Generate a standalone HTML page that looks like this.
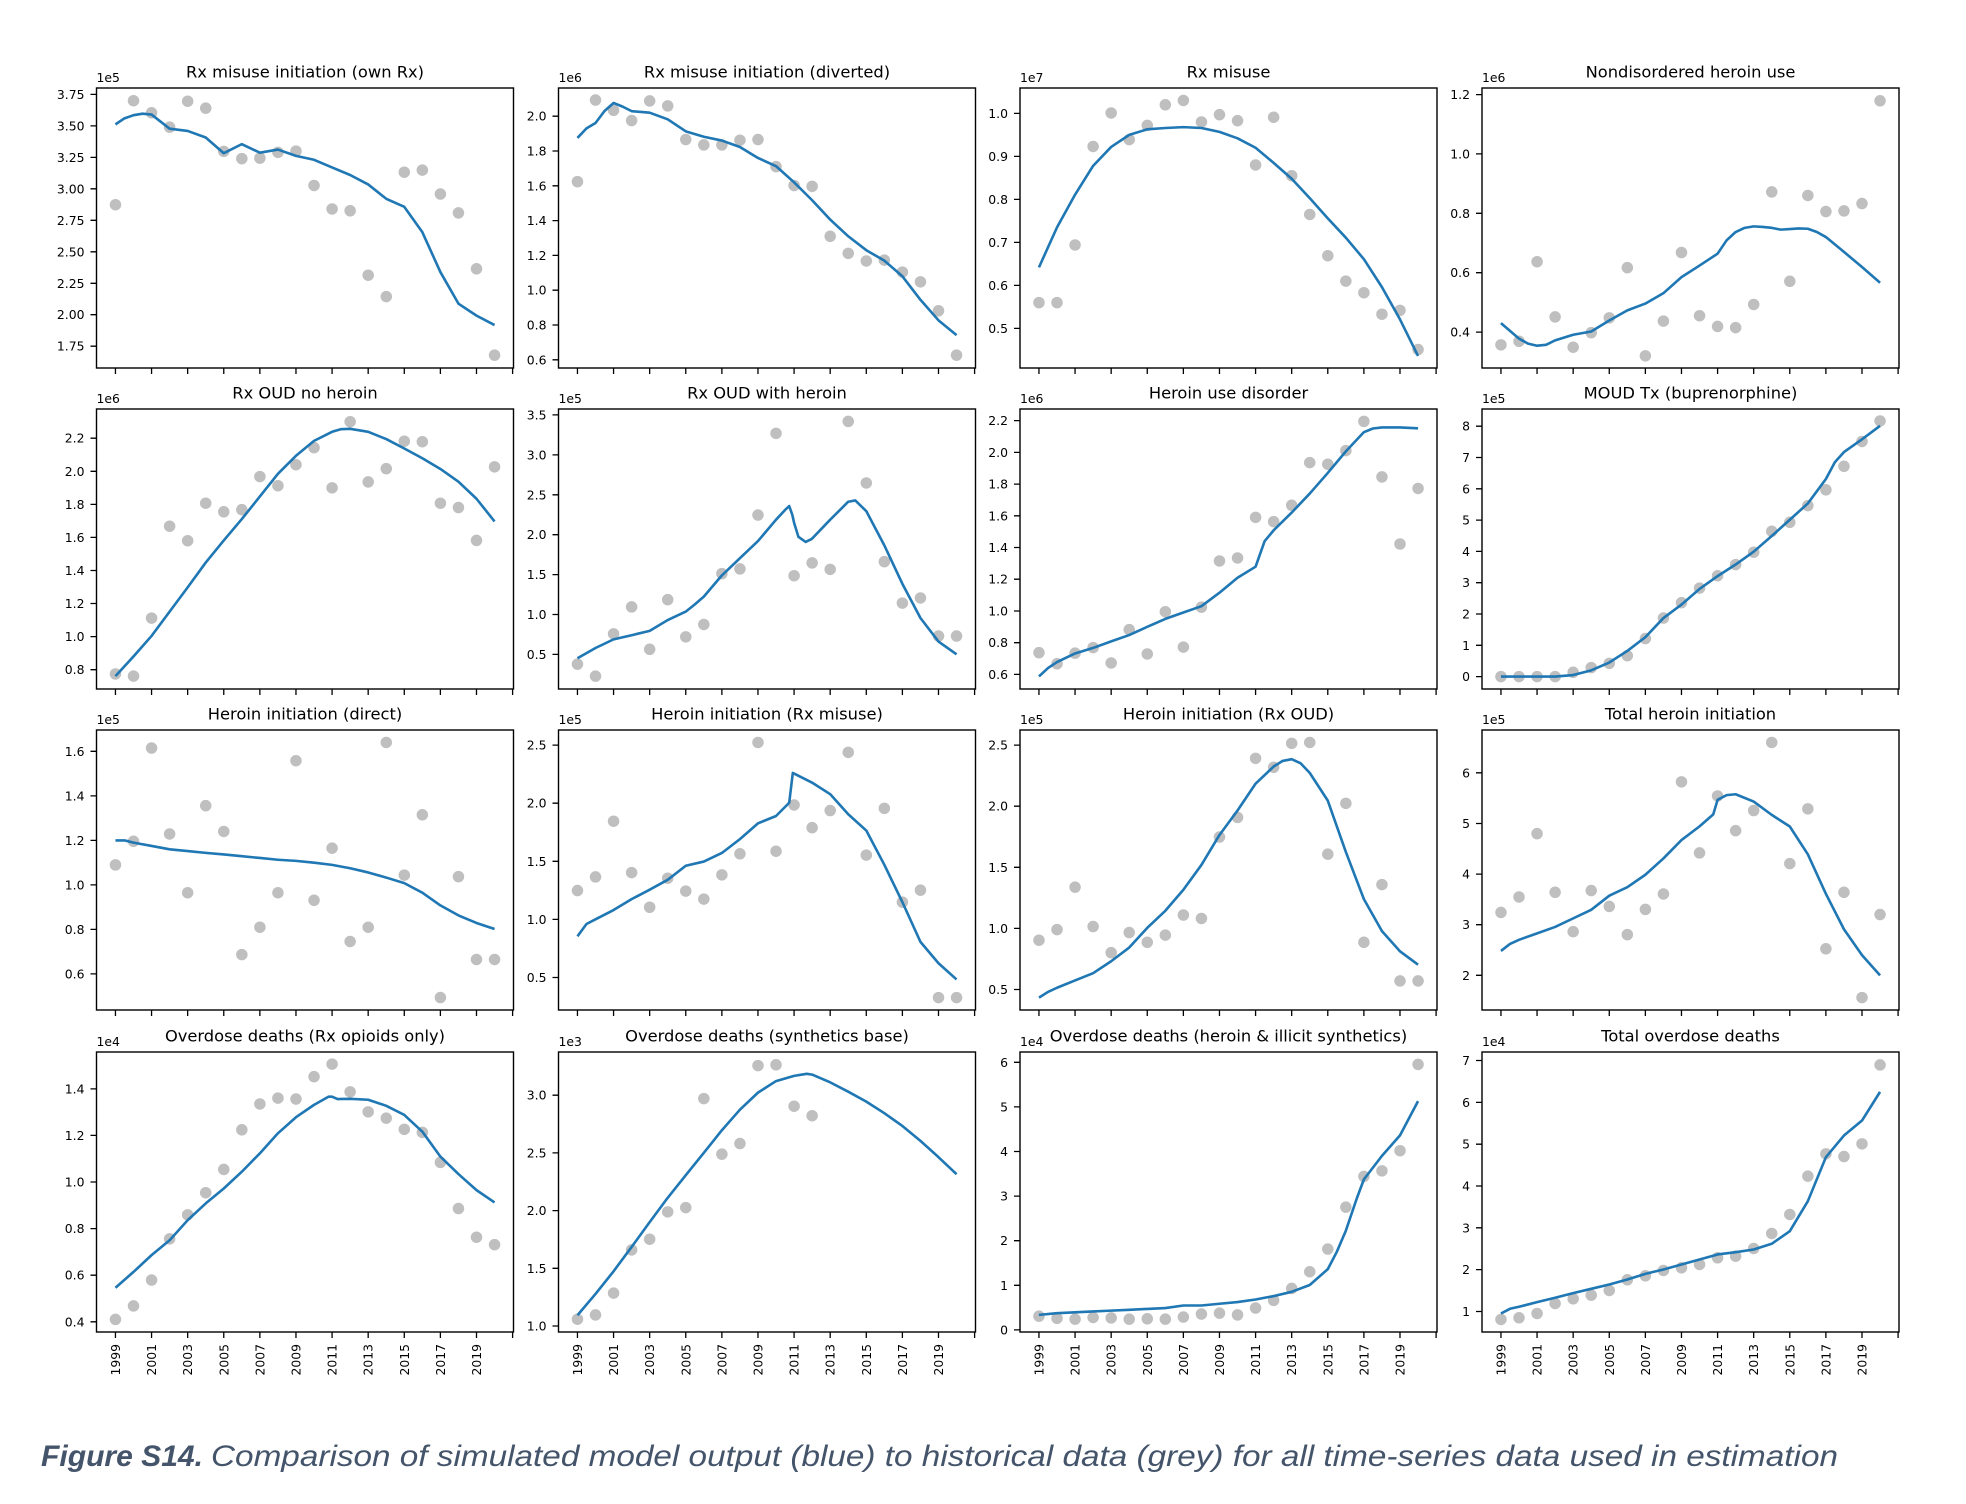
<!DOCTYPE html>
<html><head><meta charset="utf-8"><style>
html,body{margin:0;padding:0;background:#fff}
svg{display:block}
.t{font-family:"DejaVu Sans",sans-serif;font-size:16.3px;text-anchor:middle;fill:#000}
.e{font-family:"DejaVu Sans",sans-serif;font-size:12.4px;fill:#000}
.yl text{font-family:"DejaVu Sans",sans-serif;font-size:12.4px;text-anchor:end;fill:#000}
.xl text{font-family:"DejaVu Sans",sans-serif;font-size:12.4px;text-anchor:end;fill:#000}
.tk{stroke:#000;stroke-width:1.3;fill:none}
.fr{fill:none;stroke:#000;stroke-width:1.4}
.pt{stroke:#bfbfbf;stroke-width:11.5;stroke-linecap:round;fill:none}
.ln{stroke:#1f77b4;stroke-width:2.6;fill:none;stroke-linejoin:round}
.cap{font-family:"Liberation Sans",sans-serif;font-style:italic;font-size:30px;fill:#44546a}
</style></head><body>
<svg width="1966" height="1504" viewBox="0 0 1966 1504" xmlns="http://www.w3.org/2000/svg">
<rect width="1966" height="1504" fill="#fff"/>
<defs>
<path id="xt" class="tk" d="M18.95 280v6M55.06 280v6M91.16 280v6M127.26 280v6M163.37 280v6M199.47 280v6M235.58 280v6M271.68 280v6M307.78 280v6M343.89 280v6M379.99 280v6M416.1 280v6"/>
</defs>

<!-- P1 -->
<g transform="translate(96.5,88)">
<text class="t" x="208.5" y="-10.5">Rx misuse initiation (own Rx)</text>
<text class="e" x="0" y="-6">1e5</text>
<path class="tk" d="M0 258.2h-6M0 226.7h-6M0 195.3h-6M0 163.8h-6M0 132.3h-6M0 100.8h-6M0 69.4h-6M0 37.9h-6M0 6.4h-6"/>
<g class="yl"><text x="-12" y="262.7">1.75</text><text x="-12" y="231.2">2.00</text><text x="-12" y="199.8">2.25</text><text x="-12" y="168.3">2.50</text><text x="-12" y="136.8">2.75</text><text x="-12" y="105.3">3.00</text><text x="-12" y="73.9">3.25</text><text x="-12" y="42.4">3.50</text><text x="-12" y="10.9">3.75</text></g>
<use href="#xt"/>
<g transform="translate(0,280) scale(18.052,-125.9) translate(-1997.95,-1.577)">
<path class="pt" vector-effect="non-scaling-stroke" d="M1999 2.874h.001M2000 3.7h.001M2001 3.604h.001M2002 3.49h.001M2003 3.696h.001M2004 3.641h.001M2005 3.298h.001M2006 3.24h.001M2007 3.244h.001M2008 3.29h.001M2009 3.3h.001M2010 3.027h.001M2011 2.84h.001M2012 2.826h.001M2013 2.314h.001M2014 2.144h.001M2015 3.132h.001M2016 3.149h.001M2017 2.959h.001M2018 2.809h.001M2019 2.365h.001M2020 1.679h.001"/>
<polyline class="ln" vector-effect="non-scaling-stroke" points="1999,3.512 1999.5,3.56 2000,3.585 2000.5,3.597 2001,3.59 2002,3.478 2003,3.46 2004,3.408 2005,3.283 2006,3.355 2007,3.287 2008,3.312 2009,3.262 2010,3.231 2011,3.17 2012,3.11 2013,3.035 2014,2.921 2015,2.857 2016,2.656 2017,2.339 2018,2.088 2019,1.993 2020,1.918"/>
</g>
<rect class="fr" width="417" height="280"/>
</g>

<!-- P2 -->
<g transform="translate(558.5,88)">
<text class="t" x="208.5" y="-10.5">Rx misuse initiation (diverted)</text>
<text class="e" x="0" y="-6">1e6</text>
<path class="tk" d="M0 271.8h-6M0 237h-6M0 202.2h-6M0 167.4h-6M0 132.6h-6M0 97.8h-6M0 63h-6M0 28.2h-6"/>
<g class="yl"><text x="-12" y="276.3">0.6</text><text x="-12" y="241.5">0.8</text><text x="-12" y="206.7">1.0</text><text x="-12" y="171.9">1.2</text><text x="-12" y="137.1">1.4</text><text x="-12" y="102.3">1.6</text><text x="-12" y="67.5">1.8</text><text x="-12" y="32.7">2.0</text></g>
<use href="#xt"/>
<g transform="translate(0,280) scale(18.052,-174.02) translate(-1997.95,-0.553)">
<path class="pt" vector-effect="non-scaling-stroke" d="M1999 1.624h.001M2000 2.093h.001M2001 2.034h.001M2002 1.975h.001M2003 2.088h.001M2004 2.059h.001M2005 1.866h.001M2006 1.835h.001M2007 1.835h.001M2008 1.862h.001M2009 1.866h.001M2010 1.71h.001M2011 1.602h.001M2012 1.597h.001M2013 1.31h.001M2014 1.212h.001M2015 1.168h.001M2016 1.173h.001M2017 1.104h.001M2018 1.048h.001M2019 0.882h.001M2020 0.627h.001"/>
<polyline class="ln" vector-effect="non-scaling-stroke" points="1999,1.875 1999.5,1.93 2000,1.961 2000.5,2.03 2001,2.076 2001.5,2.055 2002,2.029 2003,2.02 2004,1.982 2005,1.913 2006,1.882 2007,1.86 2008,1.823 2009,1.76 2010,1.713 2011,1.62 2012,1.517 2013,1.406 2014,1.31 2015,1.23 2016,1.17 2017,1.08 2018,0.945 2019,0.827 2020,0.742"/>
</g>
<rect class="fr" width="417" height="280"/>
</g>

<!-- P3 -->
<g transform="translate(1020,88)">
<text class="t" x="208.5" y="-10.5">Rx misuse</text>
<text class="e" x="0" y="-6">1e7</text>
<path class="tk" d="M0 240.4h-6M0 197.4h-6M0 154.4h-6M0 111.4h-6M0 68.4h-6M0 25.4h-6"/>
<g class="yl"><text x="-12" y="244.9">0.5</text><text x="-12" y="201.9">0.6</text><text x="-12" y="158.9">0.7</text><text x="-12" y="115.9">0.8</text><text x="-12" y="72.9">0.9</text><text x="-12" y="29.9">1.0</text></g>
<use href="#xt"/>
<g transform="translate(0,280) scale(18.052,-430.11) translate(-1997.95,-0.408)">
<path class="pt" vector-effect="non-scaling-stroke" d="M1999 0.56h.001M2000 0.56h.001M2001 0.694h.001M2002 0.923h.001M2003 1.001h.001M2004 0.939h.001M2005 0.972h.001M2006 1.02h.001M2007 1.03h.001M2008 0.98h.001M2009 0.997h.001M2010 0.983h.001M2011 0.88h.001M2012 0.991h.001M2013 0.855h.001M2014 0.765h.001M2015 0.669h.001M2016 0.61h.001M2017 0.583h.001M2018 0.533h.001M2019 0.542h.001M2020 0.451h.001"/>
<polyline class="ln" vector-effect="non-scaling-stroke" points="1999,0.642 2000,0.735 2001,0.811 2002,0.878 2003,0.922 2004,0.95 2005,0.963 2006,0.966 2007,0.968 2008,0.966 2009,0.957 2010,0.942 2011,0.92 2012,0.885 2013,0.848 2014,0.803 2015,0.756 2016,0.711 2017,0.661 2018,0.596 2019,0.521 2020,0.436"/>
</g>
<rect class="fr" width="417" height="280"/>
</g>

<!-- P4 -->
<g transform="translate(1482,88)">
<text class="t" x="208.5" y="-10.5">Nondisordered heroin use</text>
<text class="e" x="0" y="-6">1e6</text>
<path class="tk" d="M0 244.1h-6M0 184.7h-6M0 125.3h-6M0 65.9h-6M0 6.6h-6"/>
<g class="yl"><text x="-12" y="248.6">0.4</text><text x="-12" y="189.2">0.6</text><text x="-12" y="129.8">0.8</text><text x="-12" y="70.4">1.0</text><text x="-12" y="11.1">1.2</text></g>
<use href="#xt"/>
<g transform="translate(0,280) scale(18.052,-296.92) translate(-1997.95,-0.279)">
<path class="pt" vector-effect="non-scaling-stroke" d="M1999 0.357h.001M2000 0.369h.001M2001 0.637h.001M2002 0.451h.001M2003 0.349h.001M2004 0.398h.001M2005 0.448h.001M2006 0.617h.001M2007 0.32h.001M2008 0.437h.001M2009 0.668h.001M2010 0.455h.001M2011 0.419h.001M2012 0.415h.001M2013 0.493h.001M2014 0.872h.001M2015 0.571h.001M2016 0.86h.001M2017 0.806h.001M2018 0.808h.001M2019 0.833h.001M2020 1.179h.001"/>
<polyline class="ln" vector-effect="non-scaling-stroke" points="1999,0.43 2000,0.378 2000.5,0.361 2001,0.354 2001.5,0.357 2002,0.372 2003,0.391 2004,0.402 2005,0.439 2006,0.473 2007,0.496 2008,0.531 2009,0.585 2010,0.624 2011,0.664 2011.5,0.709 2012,0.737 2012.5,0.751 2013,0.756 2013.5,0.754 2014,0.751 2014.5,0.745 2015,0.747 2015.5,0.749 2016,0.748 2016.5,0.737 2017,0.72 2018,0.67 2019,0.619 2020,0.566"/>
</g>
<rect class="fr" width="417" height="280"/>
</g>

<!-- P5 -->
<g transform="translate(96.5,409)">
<text class="t" x="208.5" y="-10.5">Rx OUD no heroin</text>
<text class="e" x="0" y="-6">1e6</text>
<path class="tk" d="M0 260.7h-6M0 227.6h-6M0 194.5h-6M0 161.5h-6M0 128.4h-6M0 95.4h-6M0 62.3h-6M0 29.2h-6"/>
<g class="yl"><text x="-12" y="265.2">0.8</text><text x="-12" y="232.1">1.0</text><text x="-12" y="199">1.2</text><text x="-12" y="166">1.4</text><text x="-12" y="132.9">1.6</text><text x="-12" y="99.9">1.8</text><text x="-12" y="66.8">2.0</text><text x="-12" y="33.7">2.2</text></g>
<use href="#xt"/>
<g transform="translate(0,280) scale(18.052,-165.29) translate(-1997.95,-0.683)">
<path class="pt" vector-effect="non-scaling-stroke" d="M1999 0.774h.001M2000 0.761h.001M2001 1.112h.001M2002 1.668h.001M2003 1.58h.001M2004 1.807h.001M2005 1.755h.001M2006 1.768h.001M2007 1.968h.001M2008 1.913h.001M2009 2.04h.001M2010 2.143h.001M2011 1.9h.001M2012 2.3h.001M2013 1.936h.001M2014 2.016h.001M2015 2.182h.001M2016 2.179h.001M2017 1.807h.001M2018 1.781h.001M2019 1.582h.001M2020 2.027h.001"/>
<polyline class="ln" vector-effect="non-scaling-stroke" points="1999,0.761 2000,0.88 2001,1.004 2002,1.151 2003,1.298 2004,1.448 2005,1.582 2006,1.711 2007,1.848 2008,1.985 2009,2.094 2010,2.184 2011,2.239 2011.5,2.255 2012,2.257 2013,2.239 2014,2.195 2015,2.138 2016,2.079 2017,2.014 2018,1.937 2019,1.834 2020,1.697"/>
</g>
<rect class="fr" width="417" height="280"/>
</g>

<!-- P6 -->
<g transform="translate(558.5,409)">
<text class="t" x="208.5" y="-10.5">Rx OUD with heroin</text>
<text class="e" x="0" y="-6">1e5</text>
<path class="tk" d="M0 245.4h-6M0 205.5h-6M0 165.6h-6M0 125.7h-6M0 85.8h-6M0 45.9h-6M0 5.9h-6"/>
<g class="yl"><text x="-12" y="249.9">0.5</text><text x="-12" y="210">1.0</text><text x="-12" y="170.1">1.5</text><text x="-12" y="130.2">2.0</text><text x="-12" y="90.3">2.5</text><text x="-12" y="50.4">3.0</text><text x="-12" y="10.4">3.5</text></g>
<use href="#xt"/>
<g transform="translate(0,280) scale(18.052,-79.79) translate(-1997.95,-0.066)">
<path class="pt" vector-effect="non-scaling-stroke" d="M1999 0.377h.001M2000 0.227h.001M2001 0.757h.001M2002 1.095h.001M2003 0.564h.001M2004 1.186h.001M2005 0.72h.001M2006 0.875h.001M2007 1.512h.001M2008 1.571h.001M2009 2.246h.001M2010 3.27h.001M2011 1.486h.001M2012 1.646h.001M2013 1.566h.001M2014 3.42h.001M2015 2.648h.001M2016 1.662h.001M2017 1.143h.001M2018 1.207h.001M2019 0.73h.001M2020 0.73h.001"/>
<polyline class="ln" vector-effect="non-scaling-stroke" points="1999,0.452 2000,0.58 2001,0.688 2002,0.74 2003,0.795 2004,0.93 2005,1.036 2005.47,1.12 2006,1.224 2007,1.49 2008,1.706 2009,1.92 2010,2.188 2010.5,2.31 2010.73,2.359 2010.9,2.25 2011,2.15 2011.24,1.973 2011.64,1.909 2011.98,1.947 2013,2.188 2014,2.413 2014.39,2.429 2015,2.295 2016,1.866 2017,1.384 2018,0.956 2019,0.661 2020,0.5"/>
</g>
<rect class="fr" width="417" height="280"/>
</g>

<!-- P7 -->
<g transform="translate(1020,409)">
<text class="t" x="208.5" y="-10.5">Heroin use disorder</text>
<text class="e" x="0" y="-6">1e6</text>
<path class="tk" d="M0 265.4h-6M0 233.7h-6M0 202h-6M0 170.2h-6M0 138.5h-6M0 106.8h-6M0 75.1h-6M0 43.4h-6M0 11.6h-6"/>
<g class="yl"><text x="-12" y="269.9">0.6</text><text x="-12" y="238.2">0.8</text><text x="-12" y="206.5">1.0</text><text x="-12" y="174.7">1.2</text><text x="-12" y="143">1.4</text><text x="-12" y="111.3">1.6</text><text x="-12" y="79.6">1.8</text><text x="-12" y="47.9">2.0</text><text x="-12" y="16.1">2.2</text></g>
<use href="#xt"/>
<g transform="translate(0,280) scale(18.052,-158.64) translate(-1997.95,-0.508)">
<path class="pt" vector-effect="non-scaling-stroke" d="M1999 0.737h.001M2000 0.667h.001M2001 0.734h.001M2002 0.769h.001M2003 0.672h.001M2004 0.882h.001M2005 0.729h.001M2006 0.995h.001M2007 0.772h.001M2008 1.024h.001M2009 1.315h.001M2010 1.334h.001M2011 1.59h.001M2012 1.563h.001M2013 1.666h.001M2014 1.935h.001M2015 1.925h.001M2016 2.011h.001M2017 2.195h.001M2018 1.845h.001M2019 1.422h.001M2020 1.772h.001"/>
<polyline class="ln" vector-effect="non-scaling-stroke" points="1999,0.587 1999.5,0.64 2000,0.678 2001,0.732 2002,0.767 2003,0.808 2004,0.848 2005,0.9 2006,0.95 2007,0.99 2008,1.03 2009,1.115 2010,1.209 2011,1.279 2011.5,1.44 2012,1.508 2013,1.62 2014,1.74 2015,1.87 2016,2.006 2017,2.127 2017.5,2.15 2018,2.157 2019,2.157 2020,2.151"/>
</g>
<rect class="fr" width="417" height="280"/>
</g>

<!-- P8 -->
<g transform="translate(1482,409)">
<text class="t" x="208.5" y="-10.5">MOUD Tx (buprenorphine)</text>
<text class="e" x="0" y="-6">1e5</text>
<path class="tk" d="M0 267.6h-6M0 236.3h-6M0 205h-6M0 173.7h-6M0 142.4h-6M0 111.1h-6M0 79.8h-6M0 48.5h-6M0 17.2h-6"/>
<g class="yl"><text x="-12" y="272.1">0</text><text x="-12" y="240.8">1</text><text x="-12" y="209.5">2</text><text x="-12" y="178.2">3</text><text x="-12" y="146.9">4</text><text x="-12" y="115.6">5</text><text x="-12" y="84.3">6</text><text x="-12" y="53">7</text><text x="-12" y="21.7">8</text></g>
<use href="#xt"/>
<g transform="translate(0,280) scale(18.052,-31.31) translate(-1997.95,0.396)">
<path class="pt" vector-effect="non-scaling-stroke" d="M1999 0h.001M2000 0h.001M2001 0h.001M2002 0h.001M2003 0.137h.001M2004 0.287h.001M2005 0.423h.001M2006 0.669h.001M2007 1.215h.001M2008 1.87h.001M2009 2.362h.001M2010 2.826h.001M2011 3.222h.001M2012 3.577h.001M2013 3.973h.001M2014 4.642h.001M2015 4.929h.001M2016 5.461h.001M2017 5.966h.001M2018 6.717h.001M2019 7.509h.001M2020 8.164h.001"/>
<polyline class="ln" vector-effect="non-scaling-stroke" points="1999,0 2000,0 2001,0 2002,0 2003,0.05 2004,0.2 2005,0.45 2006,0.82 2007,1.26 2008,1.87 2009,2.3 2010,2.8 2011,3.21 2012,3.58 2013,3.99 2014,4.49 2015,5.01 2016,5.53 2017,6.31 2017.5,6.85 2018,7.17 2019,7.58 2020,8.01"/>
</g>
<rect class="fr" width="417" height="280"/>
</g>

<!-- P9 -->
<g transform="translate(96.5,730)">
<text class="t" x="208.5" y="-10.5">Heroin initiation (direct)</text>
<text class="e" x="0" y="-6">1e5</text>
<path class="tk" d="M0 243.9h-6M0 199.4h-6M0 154.9h-6M0 110.4h-6M0 65.9h-6M0 21.3h-6"/>
<g class="yl"><text x="-12" y="248.4">0.6</text><text x="-12" y="203.9">0.8</text><text x="-12" y="159.4">1.0</text><text x="-12" y="114.9">1.2</text><text x="-12" y="70.4">1.4</text><text x="-12" y="25.8">1.6</text></g>
<use href="#xt"/>
<g transform="translate(0,280) scale(18.052,-222.58) translate(-1997.95,-0.438)">
<path class="pt" vector-effect="non-scaling-stroke" d="M1999 1.09h.001M2000 1.196h.001M2001 1.615h.001M2002 1.229h.001M2003 0.965h.001M2004 1.356h.001M2005 1.24h.001M2006 0.687h.001M2007 0.81h.001M2008 0.965h.001M2009 1.558h.001M2010 0.931h.001M2011 1.165h.001M2012 0.746h.001M2013 0.81h.001M2014 1.64h.001M2015 1.044h.001M2016 1.315h.001M2017 0.494h.001M2018 1.037h.001M2019 0.665h.001M2020 0.665h.001"/>
<polyline class="ln" vector-effect="non-scaling-stroke" points="1999,1.2 1999.5,1.2 2000,1.19 2001,1.175 2002,1.16 2003,1.152 2004,1.144 2005,1.137 2006,1.129 2007,1.121 2008,1.113 2009,1.108 2010,1.1 2011,1.09 2012,1.075 2013,1.056 2014,1.033 2015,1.008 2016,0.965 2017,0.908 2018,0.863 2019,0.829 2020,0.802"/>
</g>
<rect class="fr" width="417" height="280"/>
</g>

<!-- P10 -->
<g transform="translate(558.5,730)">
<text class="t" x="208.5" y="-10.5">Heroin initiation (Rx misuse)</text>
<text class="e" x="0" y="-6">1e5</text>
<path class="tk" d="M0 247.5h-6M0 189.4h-6M0 131.3h-6M0 73.2h-6M0 15.1h-6"/>
<g class="yl"><text x="-12" y="252">0.5</text><text x="-12" y="193.9">1.0</text><text x="-12" y="135.8">1.5</text><text x="-12" y="77.7">2.0</text><text x="-12" y="19.6">2.5</text></g>
<use href="#xt"/>
<g transform="translate(0,280) scale(18.052,-116.23) translate(-1997.95,-0.22)">
<path class="pt" vector-effect="non-scaling-stroke" d="M1999 1.248h.001M2000 1.365h.001M2001 1.844h.001M2002 1.402h.001M2003 1.104h.001M2004 1.354h.001M2005 1.243h.001M2006 1.174h.001M2007 1.383h.001M2008 1.564h.001M2009 2.522h.001M2010 1.586h.001M2011 1.984h.001M2012 1.789h.001M2013 1.936h.001M2014 2.437h.001M2015 1.553h.001M2016 1.955h.001M2017 1.148h.001M2018 1.251h.001M2019 0.327h.001M2020 0.327h.001"/>
<polyline class="ln" vector-effect="non-scaling-stroke" points="1999,0.854 1999.5,0.96 2000,1.0 2001,1.08 2002,1.174 2003,1.255 2004,1.34 2005,1.461 2006,1.497 2007,1.571 2008,1.69 2009,1.826 2010,1.889 2010.73,2.003 2010.93,2.26 2011,2.254 2012,2.176 2013,2.077 2014,1.904 2015,1.764 2016,1.469 2017,1.148 2018,0.806 2019,0.622 2020,0.483"/>
</g>
<rect class="fr" width="417" height="280"/>
</g>

<!-- P11 -->
<g transform="translate(1020,730)">
<text class="t" x="208.5" y="-10.5">Heroin initiation (Rx OUD)</text>
<text class="e" x="0" y="-6">1e5</text>
<path class="tk" d="M0 259.5h-6M0 198.4h-6M0 137.3h-6M0 76.2h-6M0 15.1h-6"/>
<g class="yl"><text x="-12" y="264">0.5</text><text x="-12" y="202.9">1.0</text><text x="-12" y="141.8">1.5</text><text x="-12" y="80.7">2.0</text><text x="-12" y="19.6">2.5</text></g>
<use href="#xt"/>
<g transform="translate(0,280) scale(18.052,-122.22) translate(-1997.95,-0.332)">
<path class="pt" vector-effect="non-scaling-stroke" d="M1999 0.903h.001M2000 0.99h.001M2001 1.337h.001M2002 1.015h.001M2003 0.801h.001M2004 0.966h.001M2005 0.886h.001M2006 0.945h.001M2007 1.109h.001M2008 1.081h.001M2009 1.747h.001M2010 1.908h.001M2011 2.391h.001M2012 2.318h.001M2013 2.514h.001M2014 2.521h.001M2015 1.607h.001M2016 2.023h.001M2017 0.886h.001M2018 1.358h.001M2019 0.57h.001M2020 0.57h.001"/>
<polyline class="ln" vector-effect="non-scaling-stroke" points="1999,0.433 1999.5,0.48 2000,0.514 2001,0.574 2002,0.633 2003,0.731 2004,0.843 2005,1.004 2006,1.144 2007,1.316 2008,1.519 2009,1.764 2010,1.964 2011,2.184 2012,2.324 2012.5,2.37 2013,2.384 2013.5,2.35 2014,2.272 2015,2.045 2016,1.625 2017,1.239 2018,0.977 2019,0.812 2020,0.703"/>
</g>
<rect class="fr" width="417" height="280"/>
</g>

<!-- P12 -->
<g transform="translate(1482,730)">
<text class="t" x="208.5" y="-10.5">Total heroin initiation</text>
<text class="e" x="0" y="-6">1e5</text>
<path class="tk" d="M0 245.3h-6M0 194.7h-6M0 144.1h-6M0 93.5h-6M0 42.8h-6"/>
<g class="yl"><text x="-12" y="249.8">2</text><text x="-12" y="199.2">3</text><text x="-12" y="148.6">4</text><text x="-12" y="98">5</text><text x="-12" y="47.3">6</text></g>
<use href="#xt"/>
<g transform="translate(0,280) scale(18.052,-50.62) translate(-1997.95,-1.315)">
<path class="pt" vector-effect="non-scaling-stroke" d="M1999 3.243h.001M2000 3.548h.001M2001 4.799h.001M2002 3.641h.001M2003 2.863h.001M2004 3.675h.001M2005 3.362h.001M2006 2.804h.001M2007 3.302h.001M2008 3.607h.001M2009 5.822h.001M2010 4.418h.001M2011 5.543h.001M2012 4.858h.001M2013 5.256h.001M2014 6.6h.001M2015 4.207h.001M2016 5.289h.001M2017 2.524h.001M2018 3.641h.001M2019 1.56h.001M2020 3.201h.001"/>
<polyline class="ln" vector-effect="non-scaling-stroke" points="1999,2.482 1999.5,2.62 2000,2.702 2001,2.829 2002,2.956 2003,3.125 2004,3.294 2005,3.573 2006,3.742 2007,3.987 2008,4.309 2009,4.672 2010,4.943 2010.76,5.18 2011,5.467 2011.5,5.56 2012,5.577 2013,5.433 2014,5.17 2015,4.94 2016,4.39 2017,3.61 2018,2.91 2019,2.4 2020,2.0"/>
</g>
<rect class="fr" width="417" height="280"/>
</g>

<!-- P13 -->
<g transform="translate(96.5,1052)">
<text class="t" x="208.5" y="-10.5">Overdose deaths (Rx opioids only)</text>
<text class="e" x="0" y="-6">1e4</text>
<path class="tk" d="M0 269.8h-6M0 223.2h-6M0 176.6h-6M0 130h-6M0 83.4h-6M0 36.9h-6"/>
<g class="yl"><text x="-12" y="274.3">0.4</text><text x="-12" y="227.7">0.6</text><text x="-12" y="181.1">0.8</text><text x="-12" y="134.5">1.0</text><text x="-12" y="87.9">1.2</text><text x="-12" y="41.4">1.4</text></g>
<use href="#xt"/>
<g class="xl"><text transform="translate(23.45,292) rotate(-90)">1999</text><text transform="translate(59.56,292) rotate(-90)">2001</text><text transform="translate(95.66,292) rotate(-90)">2003</text><text transform="translate(131.76,292) rotate(-90)">2005</text><text transform="translate(167.87,292) rotate(-90)">2007</text><text transform="translate(203.97,292) rotate(-90)">2009</text><text transform="translate(240.08,292) rotate(-90)">2011</text><text transform="translate(276.18,292) rotate(-90)">2013</text><text transform="translate(312.28,292) rotate(-90)">2015</text><text transform="translate(348.39,292) rotate(-90)">2017</text><text transform="translate(384.49,292) rotate(-90)">2019</text></g>
<g transform="translate(0,280) scale(18.052,-232.95) translate(-1997.95,-0.356)">
<path class="pt" vector-effect="non-scaling-stroke" d="M1999 0.41h.001M2000 0.468h.001M2001 0.579h.001M2002 0.756h.001M2003 0.859h.001M2004 0.954h.001M2005 1.054h.001M2006 1.224h.001M2007 1.335h.001M2008 1.36h.001M2009 1.356h.001M2010 1.452h.001M2011 1.506h.001M2012 1.387h.001M2013 1.301h.001M2014 1.274h.001M2015 1.226h.001M2016 1.213h.001M2017 1.084h.001M2018 0.886h.001M2019 0.763h.001M2020 0.731h.001"/>
<polyline class="ln" vector-effect="non-scaling-stroke" points="1999,0.546 2000,0.614 2001,0.686 2002,0.75 2003,0.836 2004,0.908 2005,0.972 2006,1.044 2007,1.123 2008,1.209 2009,1.278 2010,1.331 2010.8,1.366 2011,1.366 2011.3,1.356 2012,1.357 2013,1.353 2014,1.327 2015,1.288 2016,1.216 2017,1.109 2018,1.034 2019,0.965 2020,0.912"/>
</g>
<rect class="fr" width="417" height="280"/>
</g>

<!-- P14 -->
<g transform="translate(558.5,1052)">
<text class="t" x="208.5" y="-10.5">Overdose deaths (synthetics base)</text>
<text class="e" x="0" y="-6">1e3</text>
<path class="tk" d="M0 274h-6M0 216.3h-6M0 158.6h-6M0 100.9h-6M0 43.2h-6"/>
<g class="yl"><text x="-12" y="278.5">1.0</text><text x="-12" y="220.8">1.5</text><text x="-12" y="163.1">2.0</text><text x="-12" y="105.4">2.5</text><text x="-12" y="47.7">3.0</text></g>
<use href="#xt"/>
<g class="xl"><text transform="translate(23.45,292) rotate(-90)">1999</text><text transform="translate(59.56,292) rotate(-90)">2001</text><text transform="translate(95.66,292) rotate(-90)">2003</text><text transform="translate(131.76,292) rotate(-90)">2005</text><text transform="translate(167.87,292) rotate(-90)">2007</text><text transform="translate(203.97,292) rotate(-90)">2009</text><text transform="translate(240.08,292) rotate(-90)">2011</text><text transform="translate(276.18,292) rotate(-90)">2013</text><text transform="translate(312.28,292) rotate(-90)">2015</text><text transform="translate(348.39,292) rotate(-90)">2017</text><text transform="translate(384.49,292) rotate(-90)">2019</text></g>
<g transform="translate(0,280) scale(18.052,-115.42) translate(-1997.95,-0.948)">
<path class="pt" vector-effect="non-scaling-stroke" d="M1999 1.059h.001M2000 1.096h.001M2001 1.285h.001M2002 1.659h.001M2003 1.752h.001M2004 1.989h.001M2005 2.026h.001M2006 2.97h.001M2007 2.489h.001M2008 2.581h.001M2009 3.256h.001M2010 3.263h.001M2011 2.904h.001M2012 2.822h.001"/>
<polyline class="ln" vector-effect="non-scaling-stroke" points="1999,1.093 2000,1.278 2001,1.474 2002,1.685 2003,1.9 2004,2.111 2005,2.307 2006,2.5 2007,2.696 2008,2.874 2009,3.022 2010,3.122 2011,3.167 2011.7,3.185 2012,3.178 2013,3.111 2014,3.03 2015,2.944 2016,2.844 2017,2.733 2018,2.604 2019,2.463 2020,2.315"/>
</g>
<rect class="fr" width="417" height="280"/>
</g>

<!-- P15 -->
<g transform="translate(1020,1052)">
<text class="t" x="208.5" y="-10.5">Overdose deaths (heroin &amp; illicit synthetics)</text>
<text class="e" x="0" y="-6">1e4</text>
<path class="tk" d="M0 277.9h-6M0 233.3h-6M0 188.7h-6M0 144.1h-6M0 99.5h-6M0 54.9h-6M0 10.3h-6"/>
<g class="yl"><text x="-12" y="282.4">0</text><text x="-12" y="237.8">1</text><text x="-12" y="193.2">2</text><text x="-12" y="148.6">3</text><text x="-12" y="104">4</text><text x="-12" y="59.4">5</text><text x="-12" y="14.8">6</text></g>
<use href="#xt"/>
<g class="xl"><text transform="translate(23.45,292) rotate(-90)">1999</text><text transform="translate(59.56,292) rotate(-90)">2001</text><text transform="translate(95.66,292) rotate(-90)">2003</text><text transform="translate(131.76,292) rotate(-90)">2005</text><text transform="translate(167.87,292) rotate(-90)">2007</text><text transform="translate(203.97,292) rotate(-90)">2009</text><text transform="translate(240.08,292) rotate(-90)">2011</text><text transform="translate(276.18,292) rotate(-90)">2013</text><text transform="translate(312.28,292) rotate(-90)">2015</text><text transform="translate(348.39,292) rotate(-90)">2017</text><text transform="translate(384.49,292) rotate(-90)">2019</text></g>
<g transform="translate(0,280) scale(18.052,-44.6) translate(-1997.95,0.048)">
<path class="pt" vector-effect="non-scaling-stroke" d="M1999 0.307h.001M2000 0.259h.001M2001 0.24h.001M2002 0.278h.001M2003 0.268h.001M2004 0.24h.001M2005 0.249h.001M2006 0.24h.001M2007 0.288h.001M2008 0.355h.001M2009 0.374h.001M2010 0.336h.001M2011 0.489h.001M2012 0.661h.001M2013 0.93h.001M2014 1.304h.001M2015 1.812h.001M2016 2.751h.001M2017 3.441h.001M2018 3.566h.001M2019 4.016h.001M2020 5.952h.001"/>
<polyline class="ln" vector-effect="non-scaling-stroke" points="1999,0.336 2000,0.374 2001,0.393 2002,0.412 2003,0.431 2004,0.45 2005,0.47 2006,0.489 2007,0.546 2008,0.546 2009,0.585 2010,0.623 2011,0.681 2012,0.757 2013,0.853 2014,1.006 2015,1.361 2015.5,1.75 2016,2.223 2016.6,2.94 2017,3.374 2018,3.901 2019,4.361 2020,5.128"/>
</g>
<rect class="fr" width="417" height="280"/>
</g>

<!-- P16 -->
<g transform="translate(1482,1052)">
<text class="t" x="208.5" y="-10.5">Total overdose deaths</text>
<text class="e" x="0" y="-6">1e4</text>
<path class="tk" d="M0 259.5h-6M0 217.6h-6M0 175.8h-6M0 134h-6M0 92.2h-6M0 50.4h-6M0 8.5h-6"/>
<g class="yl"><text x="-12" y="264">1</text><text x="-12" y="222.1">2</text><text x="-12" y="180.3">3</text><text x="-12" y="138.5">4</text><text x="-12" y="96.7">5</text><text x="-12" y="54.9">6</text><text x="-12" y="13">7</text></g>
<use href="#xt"/>
<g class="xl"><text transform="translate(23.45,292) rotate(-90)">1999</text><text transform="translate(59.56,292) rotate(-90)">2001</text><text transform="translate(95.66,292) rotate(-90)">2003</text><text transform="translate(131.76,292) rotate(-90)">2005</text><text transform="translate(167.87,292) rotate(-90)">2007</text><text transform="translate(203.97,292) rotate(-90)">2009</text><text transform="translate(240.08,292) rotate(-90)">2011</text><text transform="translate(276.18,292) rotate(-90)">2013</text><text transform="translate(312.28,292) rotate(-90)">2015</text><text transform="translate(348.39,292) rotate(-90)">2017</text><text transform="translate(384.49,292) rotate(-90)">2019</text></g>
<g transform="translate(0,280) scale(18.052,-41.82) translate(-1997.95,-0.509)">
<path class="pt" vector-effect="non-scaling-stroke" d="M1999 0.809h.001M2000 0.849h.001M2001 0.952h.001M2002 1.191h.001M2003 1.303h.001M2004 1.39h.001M2005 1.502h.001M2006 1.757h.001M2007 1.853h.001M2008 1.98h.001M2009 2.044h.001M2010 2.124h.001M2011 2.283h.001M2012 2.323h.001M2013 2.506h.001M2014 2.865h.001M2015 3.319h.001M2016 4.235h.001M2017 4.769h.001M2018 4.705h.001M2019 5.008h.001M2020 6.896h.001"/>
<polyline class="ln" vector-effect="non-scaling-stroke" points="1999,0.952 1999.5,1.064 2000,1.112 2001,1.223 2002,1.327 2003,1.438 2004,1.542 2005,1.645 2006,1.765 2007,1.9 2008,2.004 2009,2.124 2010,2.243 2011,2.363 2012,2.418 2013,2.482 2014,2.618 2015,2.92 2016,3.637 2017,4.689 2018,5.207 2019,5.566 2020,6.251"/>
</g>
<rect class="fr" width="417" height="280"/>
</g>

<!-- Caption -->
<text class="cap" x="41" y="1466" font-weight="bold" textLength="162" lengthAdjust="spacingAndGlyphs">Figure S14.</text>
<text class="cap" x="211" y="1466" textLength="1627" lengthAdjust="spacingAndGlyphs">Comparison of simulated model output (blue) to historical data (grey) for all time-series data used in estimation</text>
</svg>
</body></html>
